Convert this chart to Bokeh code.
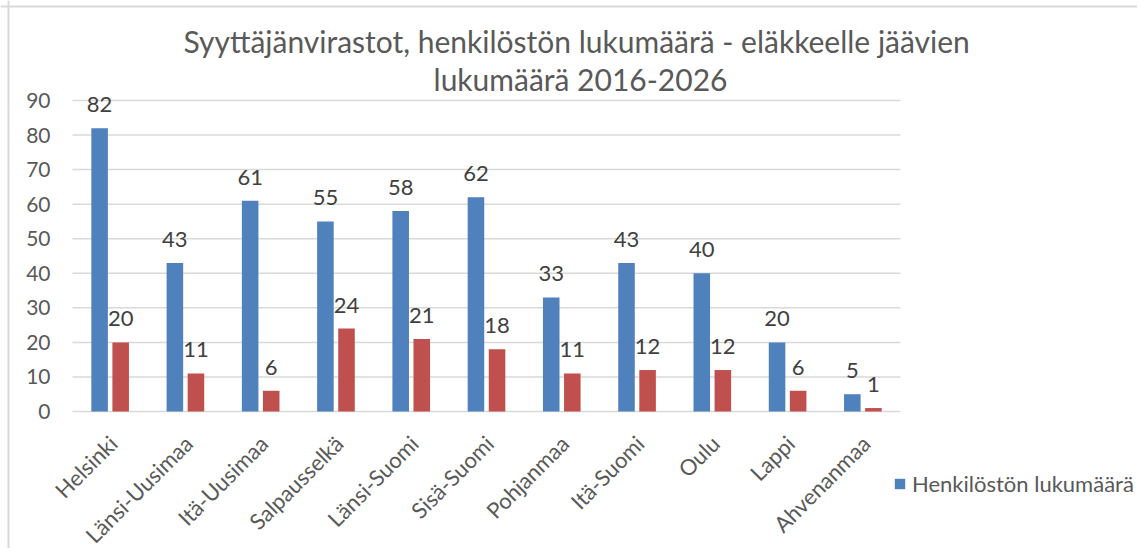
import math
from bokeh.plotting import figure
from bokeh.models import (ColumnDataSource, LabelSet, Label, Legend, LegendItem, Range1d, Span)
from bokeh.transform import dodge
from bokeh.core.properties import value
from bokeh.embed import file_html
from bokeh.resources import INLINE

# ---- data ----
categories = ["Helsinki", "Länsi-Uusimaa", "Itä-Uusimaa", "Salpausselkä", "Länsi-Suomi",
              "Sisä-Suomi", "Pohjanmaa", "Itä-Suomi", "Oulu", "Lappi", "Ahvenanmaa"]
henkilosto = [82, 43, 61, 55, 58, 62, 33, 43, 40, 20, 5]
elakkeelle = [20, 11, 6, 24, 21, 18, 11, 12, 12, 6, 1]
y_ticks = [0, 10, 20, 30, 40, 50, 60, 70, 80, 90]
y_tick_labels = [str(t) for t in y_ticks]
title_lines = ["Syyttäjänvirastot,  henkilöstön lukumäärä - eläkkeelle jäävien",
               "lukumäärä 2016-2026"]
legend_label = "Henkilöstön lukumäärä"

FONT = "Lato"
BLUE = "#4F81BD"
RED = "#C0504D"
TXT = "#595959"

n = len(categories)
pos = [i + 0.5 for i in range(n)]
src = ColumnDataSource(dict(
    x=pos, cat=categories, h=henkilosto, e=elakkeelle, zero=[0] * n,
    h_txt=[str(v) for v in henkilosto], e_txt=[str(v) for v in elakkeelle]))
grid_src = ColumnDataSource(dict(y=y_ticks, lab=y_tick_labels,
                                 x0=[0] * len(y_ticks), x1=[n] * len(y_ticks)))

# layout in canvas pixels (plot area: x 72..900, value 0 at y=411, value 90 at y=100)
W, H = 1137, 548
PL, PR, PT, PB = 72, 900, 100, 411
cat_px = (PR - PL) / n
px_per = (PB - PT) / 90.0
x_lo, x_hi = -PL / cat_px, (W - PL) / cat_px
y_lo, y_hi = -(H - PB) / px_per, 90 + PT / px_per


def px_x(px):
    return (px - PL) / cat_px


def px_y(py):
    return 90 + (PT - py) / px_per


p = figure(x_range=Range1d(x_lo, x_hi), y_range=Range1d(y_lo, y_hi), width=W, height=H,
           output_backend="svg", toolbar_location=None,
           min_border_left=0, min_border_right=0, min_border_top=0, min_border_bottom=0)
p.outline_line_color = None
p.background_fill_color = "white"
p.border_fill_color = "white"
p.xaxis.visible = False
p.yaxis.visible = False
p.xgrid.grid_line_color = None
p.ygrid.grid_line_color = None

# chart-area border (top and left edges visible)
p.add_layout(Span(location=px_x(8), dimension="height", line_color="#d9d9d9", line_width=2))
p.add_layout(Span(location=px_y(6), dimension="width", line_color="#d9d9d9", line_width=2))

# horizontal gridlines + value-axis labels
p.segment(x0="x0", x1="x1", y0="y", y1="y", source=grid_src,
          line_color="#d9d9d9", line_width=1.5)
p.add_layout(LabelSet(x="x0", y="y", text="lab", source=grid_src, x_offset=-22,
                      text_align="right", text_baseline="middle", text_font=value(FONT),
                      text_font_size="21px", text_color=TXT))

r1 = p.vbar(x=dodge("x", -0.14), top="h", width=0.22, source=src,
            fill_color=BLUE, line_color=None)
r2 = p.vbar(x=dodge("x", 0.14), top="e", width=0.22, source=src,
            fill_color=RED, line_color=None)

for xoff, col, txt in ((-0.14, "h", "h_txt"), (0.14, "e", "e_txt")):
    p.add_layout(LabelSet(x=dodge("x", xoff), y=col, text=txt,
                          source=src, y_offset=16, text_align="center",
                          text_baseline="alphabetic", text_font=value(FONT),
                          text_font_size="22px", text_color="#404040"))

# category labels, rotated 45 degrees
p.add_layout(LabelSet(x="x", y="zero", text="cat", source=src, angle=math.pi / 4,
                      x_offset=3, y_offset=-28, text_align="right", text_baseline="middle",
                      text_font=value(FONT), text_font_size="22px", text_color=TXT))

title_x = px_x(580)
p.add_layout(Label(x=title_x, y=px_y(40), text=title_lines[0],
                   text_align="center", text_baseline="alphabetic", text_font=FONT,
                   text_font_size="30px", text_color=TXT))
p.add_layout(Label(x=title_x, y=px_y(78), text=title_lines[1],
                   text_align="center", text_baseline="alphabetic", text_font=FONT,
                   text_font_size="30px", text_color=TXT))

legend = Legend(items=[LegendItem(label=legend_label, renderers=[r1])],
                location=(893, H - 497), padding=0, margin=0, border_line_color=None,
                background_fill_alpha=0, glyph_width=13, glyph_height=13,
                label_standoff=6, label_text_font=FONT, label_text_font_size="22px",
                label_text_color=TXT, label_height=22)
p.add_layout(legend, "center")

open("out.html", "w").write(file_html(p, INLINE))
